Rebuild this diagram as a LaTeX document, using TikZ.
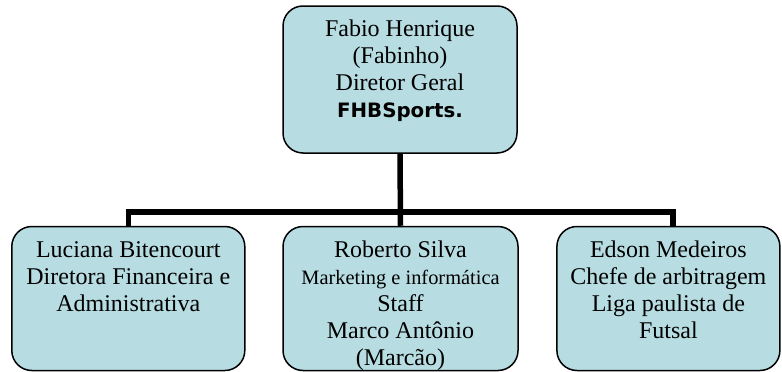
\documentclass[tikz,border=0pt]{standalone}
\usepackage{fontspec}
\setmainfont{Liberation Serif}
\newfontfamily\brandfont{DejaVu Sans}
\definecolor{boxfill}{RGB}{183,221,226}
\newcommand{\boxtext}[2]{\parbox[c][#1][t]{215pt}{\centering\fontsize{24}{27}\selectfont\vspace*{12pt}\strut #2}}
\begin{document}
\begin{tikzpicture}
		[x=1pt,y=-1pt,
		orgbox/.style={draw=black,fill=boxfill,line width=1.5pt,rounded corners=20pt,
inner sep=0pt,text=black},
		connector/.style={-,line width=5.5pt,line join=miter,black}]
		\useasboundingbox (0,0) rectangle (782,372);
		\node at (400,79.5) (director) [orgbox,minimum width=234pt] {\boxtext{147pt}{Fabio Henrique\\(Fabinho)\\Diretor Geral\\{\brandfont\bfseries\fontsize{19.8}{27}\selectfont FHBSports.}}};
		\node at (128.3,298.5) (finance) [orgbox,minimum width=233pt] {\boxtext{144pt}{Luciana Bitencourt\\Diretora Financeira e\\Administrativa}};
		\node at (400.5,298.5) (staff) [orgbox,minimum width=235pt] {\boxtext{144pt}{Roberto Silva\\{\fontsize{20.4}{27}\selectfont Marketing e informática}\\Staff\\Marco Antônio\\(Marcão)}};
		\node at (668.4,298.5) (referee) [orgbox,minimum width=223pt] {\boxtext{144pt}{Edson Medeiros\\Chefe de arbitragem\\Liga paulista de\\Futsal}};
		\coordinate (bar) at (400,212);
		\draw [connector] (director.south) -- (staff.north);
		\draw [connector] (finance.north) |- (bar) -| ([xshift=4.5pt]referee.north);
	\end{tikzpicture}
\end{document}
